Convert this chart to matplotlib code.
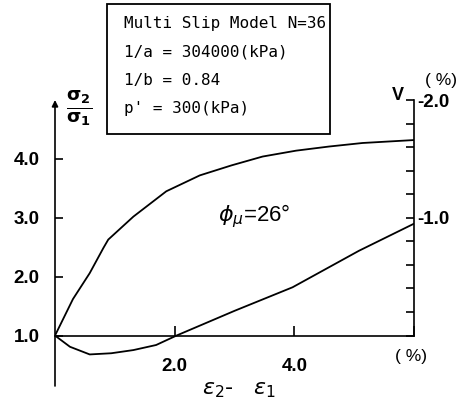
import matplotlib
matplotlib.use('Agg')
import matplotlib.pyplot as plt
from matplotlib.patches import Rectangle
from matplotlib.ticker import FixedLocator, FixedFormatter

plt.rcParams['mathtext.fontset'] = 'dejavusans'

# stress ratio sigma2/sigma1 vs. strain (%)
strain_q = [0.0, 0.30, 0.58, 0.81, 0.89, 1.31, 1.86, 2.42, 2.95, 3.47, 4.03, 4.58, 5.14, 6.0]
ratio = [1.0, 1.62, 2.06, 2.49, 2.63, 3.02, 3.45, 3.72, 3.89, 4.04, 4.14, 4.21, 4.27, 4.32]

# volumetric strain v (%) vs. strain (%)
strain_v = [0.0, 0.25, 0.58, 0.94, 1.31, 1.69, 2.03, 3.00, 3.97, 5.08, 6.0]
vol = [0.0, 0.095, 0.16, 0.15, 0.123, 0.08, 0.0, -0.21, -0.41, -0.72, -0.95]

ratio_ticks = [1.0, 2.0, 3.0, 4.0]
ratio_labels = ['1.0', '2.0', '3.0', '4.0']
strain_ticks = [2.0, 4.0, 6.0]
strain_labels = ['2.0', '4.0', '']
vol_ticks = [-2.0, -1.8, -1.6, -1.4, -1.2, -1.0, -0.8, -0.6, -0.4, -0.2, 0.0]
vol_labels = ['-2.0', '', '', '', '', '-1.0', '', '', '', '', '']

params = ['Multi Slip Model N=36',
          '1/a = 304000(kPa)',
          '1/b = 0.84',
          "p' = 300(kPa)"]

W, H = 473, 412


def fx(px):
    return px / W


def fy(py):
    return 1 - py / H


fig = plt.figure(figsize=(W / 100, H / 100), dpi=100)
ax = fig.add_axes([fx(55), fy(386), fx(414) - fx(55), fy(100) - fy(386)])

ymin, ymax = 0.144, 5.0
ax.plot(strain_q, ratio, color='black', lw=1.3)
ax.set_xlim(0, 6)
ax.set_ylim(ymin, ymax)

ax2 = ax.twinx()
ax2.plot(strain_v, vol, color='black', lw=1.3)
ax2.set_ylim(-(ymin - 1) / 2, -(ymax - 1) / 2)

for s in ['top', 'right', 'left']:
    ax.spines[s].set_visible(False)
for s in ['top', 'left', 'bottom']:
    ax2.spines[s].set_visible(False)

ax.spines['bottom'].set_position(('data', 1.0))
ax.spines['bottom'].set_bounds(0, 6)
ax.spines['bottom'].set_linewidth(1.2)
ax2.spines['right'].set_bounds(0, -2.0)
ax2.spines['right'].set_linewidth(1.2)

# left axis drawn as an arrow
ax.annotate('', xy=(0, 1.0), xytext=(0, 0), xycoords='axes fraction',
            arrowprops=dict(arrowstyle='-|>', lw=1.2, color='black',
                            mutation_scale=9, shrinkA=0, shrinkB=0))

tick_font = dict(family='Liberation Sans', weight='bold', size=13.5)

ax.yaxis.set_major_locator(FixedLocator(ratio_ticks))
ax.yaxis.set_major_formatter(FixedFormatter(ratio_labels))
ax.xaxis.set_major_locator(FixedLocator(strain_ticks))
ax.xaxis.set_major_formatter(FixedFormatter(strain_labels))
ax.tick_params(axis='y', direction='in', length=6, width=1.2, pad=11)
ax.tick_params(axis='x', direction='in', length=7, width=1.2, pad=16)
for lab in ax.get_xticklabels() + ax.get_yticklabels():
    lab.set_fontproperties(tick_font)

ax2.yaxis.set_major_locator(FixedLocator(vol_ticks))
ax2.yaxis.set_major_formatter(FixedFormatter(vol_labels))
ax2.tick_params(axis='y', direction='in', length=6, width=1.2, pad=2)
for lab in ax2.get_yticklabels():
    lab.set_fontproperties(tick_font)

# axis titles and annotations
fig.text(fx(79), fy(108), r'$\mathbf{\frac{\sigma_2}{\sigma_1}}$', fontsize=19,
         ha='center', va='center')
fig.text(fx(398), fy(95), 'V', fontsize=13, fontweight='bold',
         family='Liberation Sans', ha='center', va='center')
fig.text(fx(441), fy(80), '( %)', fontsize=12.5, family='Liberation Sans',
         ha='center', va='center')
fig.text(fx(411), fy(357), '( %)', fontsize=12.5, family='Liberation Sans',
         ha='center', va='center')
fig.text(fx(239), fy(390), r'$\varepsilon_2$-   $\varepsilon_1$', fontsize=16,
         ha='center', va='center')
fig.text(fx(254), fy(216), r'$\phi_\mu$=26°', fontsize=16,
         family='Liberation Sans', ha='center', va='center')

# model parameter box
fig.add_artist(Rectangle((fx(107), fy(134)), fx(330) - fx(107), fy(4) - fy(134),
                         transform=fig.transFigure, fill=False, lw=1.3,
                         edgecolor='black'))
for i, line in enumerate(params):
    fig.text(fx(124), fy(28 + 28.3 * i), line, fontsize=11.5,
             family='DejaVu Sans Mono', ha='left', va='baseline')

fig.savefig('out.png', dpi=100)
